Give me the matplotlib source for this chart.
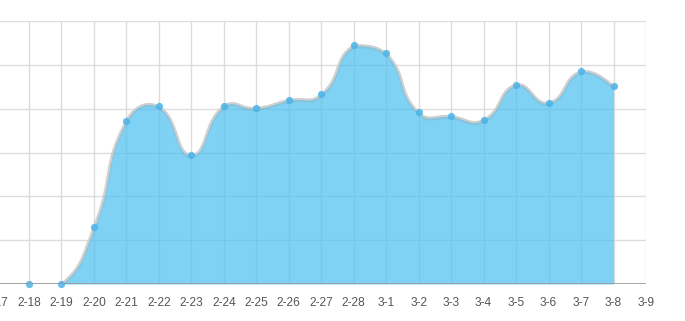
import numpy as np
import matplotlib
matplotlib.use("Agg")
import matplotlib.pyplot as plt
import matplotlib.patheffects as pe

categories = ["2-17", "2-18", "2-19", "2-20", "2-21", "2-22", "2-23", "2-24", "2-25",
              "2-26", "2-27", "2-28", "3-1", "3-2", "3-3", "3-4", "3-5", "3-6", "3-7",
              "3-8", "3-9"]
values = [0, 0, 0, 1.30, 3.73, 4.05, 2.95, 4.06, 4.02, 4.20, 4.33, 5.45, 5.27,
          3.92, 3.83, 3.75, 4.55, 4.14, 4.85, 4.51]
y_max = 6

fig = plt.figure(figsize=(6.85, 3.21), dpi=100)
W, H = 685, 321
left_px, right_px, top_px, bot_px = -3.5, 646, 21, 284
ax = fig.add_axes([left_px / W, (H - bot_px) / H, (right_px - left_px) / W, (bot_px - top_px) / H])
ax.set_xlim(0, len(categories) - 1)
ax.set_ylim(0, y_max)

# ECharts-like smoothing in pixel space
sx = (right_px - left_px) / (len(categories) - 1)
sy = (bot_px - top_px) / y_max
pts = np.array([[i * sx, v * sy] for i, v in enumerate(values)])
smooth = 0.5
lo = pts.min(axis=0); hi = pts.max(axis=0)
cps = []
n = len(pts)
for i in range(n):
    if i == 0 or i == n - 1:
        cps.append(pts[i].copy()); cps.append(pts[i].copy())
        continue
    v = (pts[i + 1] - pts[i - 1]) * smooth
    d0 = np.linalg.norm(pts[i] - pts[i - 1]); d1 = np.linalg.norm(pts[i] - pts[i + 1])
    s = d0 + d1
    if s:
        d0 /= s; d1 /= s
    c0 = np.clip(pts[i] - v * d0, lo, hi)
    c1 = np.clip(pts[i] + v * d1, lo, hi)
    cps.append(c0); cps.append(c1)
cx, cy = [], []
t = np.linspace(0, 1, 40)
for i in range(n - 1):
    p0 = pts[i]; p1 = cps[2 * i + 1]; p2 = cps[2 * (i + 1)]; p3 = pts[i + 1]
    b = ((1 - t) ** 3)[:, None] * p0 + (3 * (1 - t) ** 2 * t)[:, None] * p1 + \
        (3 * (1 - t) * t ** 2)[:, None] * p2 + (t ** 3)[:, None] * p3
    cx.extend(b[:, 0] / sx); cy.extend(b[:, 1] / sy)
cx = np.array(cx); cy = np.array(cy)

# grid
for yv in range(1, y_max + 1):
    ax.axhline(yv, color="#dddddd", lw=1, zorder=1)
for i in range(1, len(categories)):
    ax.axvline(i, color="#dddddd", lw=1, zorder=1)

ax.fill_between(cx, 0, cy, color="#4abff2", alpha=0.7, lw=0, zorder=2)
ax.plot(cx, cy, color="#cfcfcf", lw=1.4, zorder=3, solid_capstyle="round",
        path_effects=[pe.SimpleLineShadow(offset=(0, -1), shadow_color="#999999", alpha=0.25, linewidth=2.6),
                      pe.Normal()])
xs = np.arange(len(values))
ax.plot(xs[1:], values[1:], "o", ms=5.2, color="#4ab3e8", alpha=0.85, mec="none", zorder=4, clip_on=False)

ax.axhline(0, color="#999999", lw=1.2, zorder=5)
for s in ax.spines.values():
    s.set_visible(False)
ax.set_yticks([])
ax.set_xticks(range(len(categories)))
ax.set_xticklabels(categories, fontfamily="Liberation Sans", fontsize=8.6, color="#555555")
ax.tick_params(axis="x", length=0, pad=9)

fig.savefig("out.png", dpi=100)
